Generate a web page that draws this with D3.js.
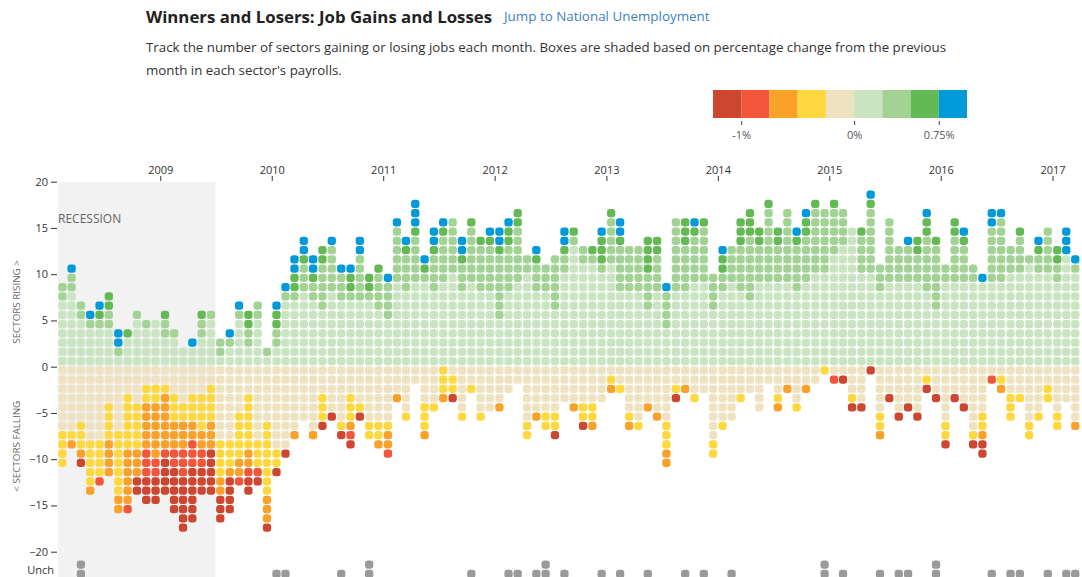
<!DOCTYPE html>
<html>
<head>
<meta charset="utf-8">
<script src="https://cdn.jsdelivr.net/npm/d3@7"></script>
<style>
  body { margin: 0; background: #fff; font-family: "Open Sans", "Noto Sans", sans-serif; }
  svg text { font-family: "Open Sans", "Noto Sans", sans-serif; }
</style>
</head>
<body>
<svg id="chart" width="1082" height="577"></svg>
<script>
// monthly columns, Feb 2008 .. Mar 2017
var firstMonth = new Date(2008, 1, 1);
var endMonth = new Date(2017, 3, 1);

// sectors rising, counted per shade (bottom to top)
var riseLight = [7,8,5,4,4,4,1,3,5,4,5,3,3,2,2,3,5,1,2,5,2,5,1,2,7,7,8,7,6,8,7,7,7,7,6,5,9,8,9,9,8,9,10,8,9,8,8,5,8,9,10,8,8,6,10,13,11,11,10,11,8,8,8,6,8,4,8,8,9,9,6,8,9,8,7,9,9,9,9,8,9,10,10,12,13,15,10,10,8,9,9,9,9,8,6,9,9,9,9,9,9,9,10,10,11,10,10,9,12,10];
var riseMid   = [2,2,2,1,1,2,1,0,1,1,0,2,1,0,0,2,1,2,1,1,2,2,1,2,1,1,3,2,5,5,3,1,5,1,4,4,6,4,5,1,4,5,6,3,6,5,5,7,5,6,2,3,3,6,2,1,2,1,1,5,5,5,5,4,4,4,8,5,5,6,4,2,4,5,7,4,8,4,8,5,5,7,7,5,4,0,4,7,3,7,4,4,3,6,7,2,5,4,2,0,6,7,3,4,1,2,5,2,0,1];
var riseGreen = [0,0,0,0,1,2,0,1,0,0,0,1,0,0,0,1,0,0,0,0,2,0,0,2,0,2,1,1,2,0,0,2,0,2,1,0,0,1,1,1,1,1,0,1,1,1,1,1,2,2,0,1,0,0,1,1,0,1,3,1,1,0,0,4,2,0,0,3,1,1,0,2,0,3,3,2,1,2,0,1,2,1,0,1,0,0,1,1,0,0,0,0,2,2,1,0,2,1,0,0,0,0,0,1,0,1,0,2,0,0];
var riseBlue  = [0,1,0,1,1,0,2,0,0,0,0,0,0,0,1,0,0,0,1,1,0,0,0,1,1,2,2,2,0,1,1,1,2,0,0,1,1,1,3,1,2,1,0,2,0,0,1,2,1,0,0,1,0,0,2,0,0,0,1,0,2,0,0,0,0,1,0,0,1,0,0,1,0,0,0,0,0,0,0,1,1,0,0,0,0,0,0,1,0,0,0,1,0,1,0,0,0,1,0,1,2,1,0,0,0,1,0,0,3,1];

// sectors falling, counted per shade (top to bottom)
var fallBeige   = [7,7,6,8,8,4,7,3,4,2,2,2,3,4,3,3,2,8,8,5,3,8,6,9,9,7,6,7,3,5,6,3,4,6,6,6,3,5,2,4,4,0,1,5,2,5,5,4,3,2,6,5,5,5,4,4,4,4,4,1,2,5,6,4,5,6,2,2,3,3,8,6,6,3,3,5,2,3,2,4,2,2,0,1,1,3,4,0,5,3,5,4,5,1,3,6,3,4,7,5,1,1,3,3,6,5,2,5,4,6];
var fallYellow  = [4,1,3,5,4,4,7,6,5,2,2,1,3,2,3,4,4,4,3,5,6,3,8,2,0,0,0,0,3,0,1,3,1,2,2,1,0,1,0,3,1,3,2,1,1,1,0,0,0,0,2,0,2,2,0,0,2,2,0,1,1,1,1,0,0,3,1,0,1,0,2,1,0,1,0,0,0,1,0,1,0,0,1,0,0,1,0,0,2,0,0,0,0,1,0,2,0,0,1,2,0,1,3,1,2,1,2,2,0,0];
var fallOrange  = [0,1,1,1,0,4,2,6,3,5,6,6,3,3,2,2,3,2,1,2,2,0,3,0,0,1,0,1,0,0,0,1,0,0,1,2,1,0,0,1,0,1,0,0,0,0,0,1,0,0,0,1,0,0,0,1,0,1,0,1,0,1,0,1,1,2,0,1,0,0,0,0,0,0,0,0,0,1,1,0,1,0,0,0,0,0,0,0,1,0,0,0,0,0,0,0,0,0,0,1,0,1,0,0,0,0,0,0,0,1];
var fallRed     = [0,0,0,0,1,0,0,1,0,3,2,1,2,3,3,2,0,0,0,1,1,1,0,0,0,0,0,0,0,0,0,1,0,0,0,1,0,0,0,0,0,0,0,0,0,0,0,0,0,0,0,0,0,0,0,0,0,0,0,0,0,0,0,0,0,0,0,0,0,0,0,0,0,0,0,0,0,0,0,0,0,0,0,1,0,0,0,0,0,0,0,0,0,0,0,0,0,0,0,0,1,0,0,0,0,0,0,0,0,0];
var fallDarkRed = [0,0,1,0,0,0,0,0,2,3,3,4,5,6,6,3,5,3,4,0,2,1,1,1,1,0,0,0,1,1,1,1,1,0,0,0,0,0,0,0,0,0,1,0,0,0,0,0,0,0,0,0,0,1,0,0,1,0,0,0,0,0,0,0,0,0,1,0,0,0,0,0,0,0,0,0,0,0,0,0,0,0,0,0,1,1,1,1,0,1,1,1,1,1,1,1,1,1,1,2,0,0,0,0,0,0,0,0,0,0];

// sectors unchanged
var unchanged = [0,0,2,0,0,0,0,0,0,0,0,0,0,0,0,0,0,0,0,0,0,0,0,1,1,0,0,0,0,0,1,0,0,2,0,0,0,0,0,0,0,0,0,0,1,0,0,0,1,1,0,1,2,0,1,0,0,0,1,0,1,0,0,1,0,0,0,1,0,1,0,0,1,0,0,0,0,0,0,0,0,0,2,0,1,0,0,0,1,0,1,1,0,0,2,0,0,0,0,0,1,0,1,1,0,0,1,0,1,1];

// legend
var shadeNames  = ['darkred', 'red', 'orange', 'yellow', 'beige', 'light', 'mid', 'green', 'blue'];
var shadeColors = ['#cd4630', '#f1553a', '#f9a129', '#fed83f', '#efe2c0', '#c9e4c0', '#a3d394', '#63ba54', '#0099da'];
var legendBreaks = [-1.25, -1, -0.75, -0.5, -0.25, 0, 0.25, 0.5, 0.75, 1];
var legendTicks = [-1, 0, 0.75];
var legendLabels = ['-1%', '0%', '0.75%'];

var yTicks = [20, 15, 10, 5, 0, -5, -10, -15, -20];
var recession = [new Date(2007, 11, 1), new Date(2009, 6, 1)];

var svg = d3.select('#chart');
var color = d3.scaleOrdinal().domain(shadeNames).range(shadeColors);

var months = d3.timeMonth.range(firstMonth, endMonth);

var x = d3.scaleTime()
    .domain([firstMonth, endMonth])
    .range([58, 1080]);

var y = d3.scaleLinear()
    .domain([-20, 20])
    .range([551.7, 181.7]);

// header
svg.append('text')
    .attr('x', 146).attr('y', 23)
    .style('font-size', '16.8px').style('font-weight', 700).style('fill', '#222')
    .text('Winners and Losers: Job Gains and Losses');

svg.append('text')
    .attr('x', 504).attr('y', 21)
    .style('font-size', '13.4px').style('fill', '#3d7fc2')
    .text('Jump to National Unemployment');

svg.append('text')
    .attr('x', 146).attr('y', 52)
    .style('font-size', '13.3px').style('fill', '#333')
    .text('Track the number of sectors gaining or losing jobs each month. Boxes are shaded based on percentage change from the previous');

svg.append('text')
    .attr('x', 146).attr('y', 75)
    .style('font-size', '13.3px').style('fill', '#333')
    .text("month in each sector's payrolls.");

// colour legend
var lx = d3.scaleLinear().domain([-1.25, 1]).range([713, 967]);

svg.append('g')
    .selectAll('rect')
    .data(shadeNames)
    .enter()
    .append('rect')
    .attr('x', function (d, i) { return lx(legendBreaks[i]); })
    .attr('y', 90)
    .attr('width', function (d, i) { return lx(legendBreaks[i + 1]) - lx(legendBreaks[i]); })
    .attr('height', 28)
    .style('fill', function (d) { return color(d); });

var legendAxis = svg.append('g')
    .attr('transform', 'translate(0,121)')
    .call(d3.axisBottom(lx).tickValues(legendTicks).tickSize(4).tickFormat(function (d, i) { return legendLabels[i]; }));
legendAxis.select('.domain').remove();
legendAxis.selectAll('line').style('stroke', '#444');
legendAxis.selectAll('text').style('font-size', '11px').style('fill', '#555').attr('dy', '1em');

// recession shading
svg.append('rect')
    .attr('x', Math.max(x(recession[0]), x.range()[0]))
    .attr('y', y(20))
    .attr('width', x(recession[1]) - Math.max(x(recession[0]), x.range()[0]))
    .attr('height', 577 - y(20))
    .style('fill', '#f2f2f2');

svg.append('text')
    .attr('x', 58).attr('y', 223)
    .style('font-size', '12px').style('fill', '#666')
    .text('RECESSION');

// year axis
var xAxis = svg.append('g')
    .attr('transform', 'translate(0,181)')
    .call(d3.axisTop(x).ticks(d3.timeYear.every(1)).tickSize(5).tickFormat(d3.timeFormat('%Y')));
xAxis.select('.domain').remove();
xAxis.selectAll('line').style('stroke', '#333');
xAxis.selectAll('text').style('font-size', '11px').style('fill', '#333').attr('dy', '0.1em');

// value axis
var yAxis = svg.append('g')
    .attr('transform', 'translate(57,0)')
    .call(d3.axisLeft(y).tickValues(yTicks).tickSize(6).tickPadding(3));
yAxis.select('.domain').remove();
yAxis.selectAll('line').style('stroke', '#333');
yAxis.selectAll('text').style('font-size', '11px').style('fill', '#333');

svg.append('text')
    .attr('x', 54).attr('y', y(-22.1))
    .attr('dy', '0.3em')
    .attr('text-anchor', 'end')
    .style('font-size', '11px').style('fill', '#333')
    .text('Unch');

svg.append('text')
    .attr('transform', 'translate(20,' + y(7) + ') rotate(-90)')
    .attr('text-anchor', 'middle')
    .style('font-size', '9.8px').style('fill', '#666')
    .text('SECTORS RISING >');

svg.append('text')
    .attr('transform', 'translate(20,' + y(-8.6) + ') rotate(-90)')
    .attr('text-anchor', 'middle')
    .style('font-size', '9.8px').style('fill', '#666')
    .text('< SECTORS FALLING');

// build the dots
var dots = [];
var riseSets = [['light', riseLight], ['mid', riseMid], ['green', riseGreen], ['blue', riseBlue]];
var fallSets = [['beige', fallBeige], ['yellow', fallYellow], ['orange', fallOrange], ['red', fallRed], ['darkred', fallDarkRed]];

months.forEach(function (m, i) {
    var k = 0;
    riseSets.forEach(function (s) {
        for (var n = 0; n < s[1][i]; n++) {
            k++;
            dots.push({ month: m, shade: s[0], v: k - 0.4 });
        }
    });
    k = 0;
    fallSets.forEach(function (s) {
        for (var n = 0; n < s[1][i]; n++) {
            k++;
            dots.push({ month: m, shade: s[0], v: -k + 0.6 });
        }
    });
    for (var n = 0; n < unchanged[i]; n++) {
        dots.push({ month: m, shade: 'unch', v: -22.4 + n });
    }
});

function colX(m) {
    return (x(m) + x(d3.timeMonth.offset(m, 1))) / 2;
}

var dotW = 8.3, dotH = 8.3;

svg.append('g')
    .selectAll('rect')
    .data(dots)
    .enter()
    .append('rect')
    .attr('x', function (d) { return colX(d.month) - dotW / 2; })
    .attr('y', function (d) { return y(d.v) - dotH / 2; })
    .attr('width', dotW)
    .attr('height', dotH)
    .attr('rx', 3)
    .style('fill', function (d) { return d.shade === 'unch' ? '#9a9a9a' : color(d.shade); });
</script>
</body>
</html>
